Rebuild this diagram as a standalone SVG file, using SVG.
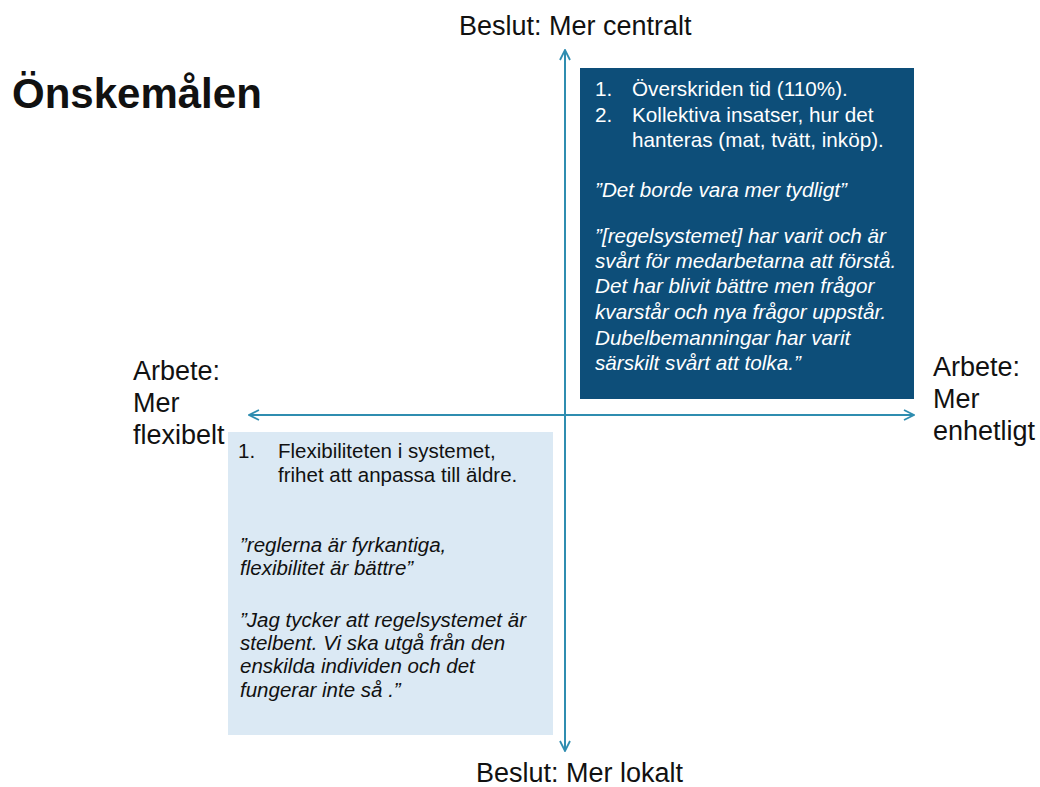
<svg xmlns="http://www.w3.org/2000/svg" width="1040" height="787" viewBox="0 0 1040 787">
<style>
text{font-family:"Liberation Sans",Arial,sans-serif;fill:#111111}
.lbl{font-size:27px}
.dk text{fill:#ffffff;font-size:20.7px}
.lt text{font-size:20.5px}
.it{font-style:italic}
.ax{stroke:#2f8db0;stroke-width:2;fill:none}
</style>
<defs>
<marker id="ah" viewBox="0 0 12 12" refX="11" refY="6" markerWidth="12" markerHeight="12" markerUnits="userSpaceOnUse" orient="auto">
<path d="M1,1 L11,6 L1,11" fill="none" stroke="#2f8db0" stroke-width="1.8"/>
</marker>
</defs>
<rect width="1040" height="787" fill="#ffffff"/>
<text x="12" y="108" style="font-size:42px;font-weight:bold">Önskemålen</text>
<g id="box-central">
<rect x="580" y="68" width="334" height="331" fill="#0d4e79"/>
<g class="dk">
<text x="595" y="96">1.</text><text x="632" y="96">Överskriden tid (110%).</text>
<text x="595" y="122">2.</text><text x="632" y="122">Kollektiva insatser, hur det</text>
<text x="632" y="147">hanteras (mat, tvätt, inköp).</text>
<text x="595" y="197" class="it">”Det borde vara mer tydligt”</text>
<text x="595" y="243" class="it">”[regelsystemet] har varit och är</text>
<text x="595" y="268" class="it">svårt för medarbetarna att förstå.</text>
<text x="595" y="293" class="it">Det har blivit bättre men frågor</text>
<text x="595" y="319" class="it">kvarstår och nya frågor uppstår.</text>
<text x="595" y="345" class="it">Dubelbemanningar har varit</text>
<text x="595" y="370" class="it">särskilt svårt att tolka.”</text>
</g>
</g>
<g id="box-flexibel">
<rect x="228" y="432" width="325" height="303" fill="#dbe9f4"/>
<g class="lt">
<text x="238" y="458">1.</text><text x="278" y="458">Flexibiliteten i systemet,</text>
<text x="278" y="482">frihet att anpassa till äldre.</text>
<text x="240" y="552" class="it">”reglerna är fyrkantiga,</text>
<text x="240" y="575" class="it">flexibilitet är bättre”</text>
<text x="240" y="627" class="it">”Jag tycker att regelsystemet är</text>
<text x="240" y="650" class="it">stelbent. Vi ska utgå från den</text>
<text x="240" y="673" class="it">enskilda individen och det</text>
<text x="240" y="697" class="it">fungerar inte så .”</text>
</g>
</g>
<g id="connectors">
<line class="ax" x1="565" y1="415" x2="565" y2="50" marker-end="url(#ah)"/>
<line class="ax" x1="565" y1="415" x2="565" y2="751" marker-end="url(#ah)"/>
<line class="ax" x1="565" y1="415" x2="249" y2="415" marker-end="url(#ah)"/>
<line class="ax" x1="565" y1="415" x2="914" y2="415" marker-end="url(#ah)"/>
</g>
<g id="label-top"><text class="lbl" x="459" y="35">Beslut: Mer centralt</text></g>
<g id="label-bottom"><text class="lbl" x="476" y="782">Beslut: Mer lokalt</text></g>
<g id="label-left"><text class="lbl" x="133" y="380">Arbete:</text><text class="lbl" x="133" y="412">Mer</text><text class="lbl" x="133" y="444">flexibelt</text></g>
<g id="label-right"><text class="lbl" x="933" y="376">Arbete:</text><text class="lbl" x="933" y="408">Mer</text><text class="lbl" x="933" y="440">enhetligt</text></g>
</svg>
